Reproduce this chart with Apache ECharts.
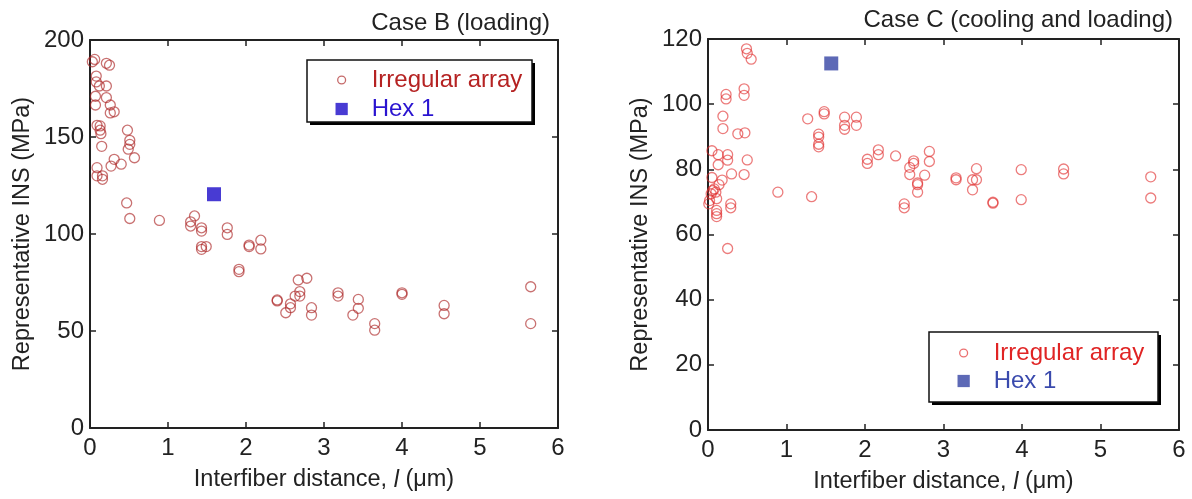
<!DOCTYPE html>
<html>
<head>
<meta charset="utf-8">
<script src="https://cdn.jsdelivr.net/npm/echarts@6/dist/echarts.min.js"></script>
<style>
    html, body { margin: 0; padding: 0; background: #fff; }
    #chart { width: 1192px; height: 499px; }
</style>
</head>
<body>
<div id="chart"></div>
<script>
// Case B (loading): [interfiber distance, INS]
var caseBIrregular = [
    [0.03, 188.8], [0.06, 190], [0.21, 188], [0.25, 187], [0.08, 181.4], [0.08, 178.4],
    [0.12, 176.3], [0.21, 176.3], [0.07, 171], [0.21, 170.3], [0.07, 166.5], [0.26, 166.5],
    [0.26, 162.4], [0.31, 163], [0.09, 156], [0.13, 155.7], [0.13, 153.5], [0.14, 151.7],
    [0.48, 153.5], [0.51, 148.3], [0.51, 146.2], [0.49, 143.7], [0.15, 145.2], [0.57, 139.3],
    [0.31, 138.5], [0.27, 135], [0.4, 136], [0.09, 134.2], [0.09, 130], [0.16, 130],
    [0.16, 128.2], [0.47, 116], [0.51, 108], [0.89, 107], [1.34, 109.3], [1.29, 106.3],
    [1.29, 104.1], [1.43, 103.2], [1.43, 101.5], [1.76, 103.2], [1.76, 99.8], [1.43, 93.5],
    [1.43, 92.1], [1.49, 93.5], [2.04, 94.3], [2.04, 93.5], [2.19, 96.8], [2.19, 92.3],
    [1.91, 81.8], [1.91, 80.6], [2.67, 76.3], [2.78, 77.2], [2.69, 70.3], [2.69, 68],
    [2.63, 68], [2.4, 66], [2.4, 65.5], [2.57, 64], [2.57, 62], [2.51, 59.4], [2.84, 62],
    [2.84, 58.2], [3.18, 69.7], [3.18, 68], [3.44, 66.3], [3.44, 61.7], [3.37, 58.2],
    [3.65, 53.8], [3.65, 50.4], [4.0, 69.7], [4.0, 68.9], [4.54, 63.2], [4.54, 58.9],
    [5.65, 72.8], [5.65, 53.8]
];
var caseBHex = [[1.59, 120.5]];

// Case C (cooling and loading)
var caseCIrregular = [
    [0.49, 117], [0.5, 115.6], [0.55, 113.8], [0.46, 104.7], [0.46, 102.7], [0.23, 103],
    [0.23, 101.6], [0.19, 96.3], [0.19, 92.5], [0.38, 90.9], [0.47, 91.2], [0.05, 85.7],
    [0.13, 84.5], [0.25, 84.5], [0.25, 82.8], [0.5, 82.9], [0.13, 81.4], [0.3, 78.6],
    [0.46, 78.4], [0.05, 77.5], [0.18, 76.7], [0.14, 75.3], [0.08, 74], [0.06, 73.5],
    [0.04, 72.5], [0.02, 70.4], [0.01, 69.4], [0.1, 73], [0.11, 71], [0.11, 67.4],
    [0.11, 66.4], [0.11, 65.5], [0.29, 69.4], [0.29, 68.2], [0.25, 55.7], [0.89, 73],
    [1.32, 71.6], [1.27, 95.5], [1.48, 97.7], [1.48, 97], [1.41, 90.8], [1.41, 89.9],
    [1.41, 87.7], [1.41, 86.9], [1.74, 96], [1.74, 93.5], [1.74, 92.3], [1.89, 96],
    [1.89, 93.5], [2.17, 86], [2.17, 84.5], [2.03, 83.1], [2.03, 81.8], [2.39, 84.1],
    [2.62, 82.6], [2.62, 81.8], [2.57, 80.6], [2.57, 78.4], [2.82, 85.5], [2.82, 82.4],
    [2.76, 78.2], [2.67, 75.8], [2.67, 75.3], [2.67, 73], [2.5, 69.4], [2.5, 68.2],
    [3.16, 77.4], [3.16, 76.8], [3.42, 80.2], [3.37, 76.8], [3.42, 76.8], [3.37, 73.7],
    [3.63, 69.9], [3.63, 69.6], [3.99, 79.9], [3.99, 70.7], [4.53, 80.1], [4.53, 78.6],
    [5.64, 77.7], [5.64, 71.2]
];
var caseCHex = [[1.57, 112.5]];

var titles = ['Case B (loading)', 'Case C (cooling and loading)'];
var legendNames = ['Irregular array', 'Hex 1'];

var FONT = '"Liberation Sans", Arial, sans-serif';
var INK = '#222';
// small icons with empty margins so the legend keeps them little
var smallCircle = 'path://M0,0M16,16M8,3.5A4.5,4.5,0,1,1,7.99,3.5Z';
var smallSquare = 'path://M0,0M16,16M1,1H15V15H1Z';

function xAxes(grid) {
    var base = {
        gridIndex: grid, type: 'value', min: 0, max: 6, interval: 1,
        axisLine: { show: true, onZero: false, lineStyle: { color: INK, width: 2 } },
        axisTick: { show: true, inside: true, length: 6, lineStyle: { color: INK, width: 1.5 } },
        splitLine: { show: false }
    };
    var bottom = Object.assign({}, base, {
        position: 'bottom',
        axisLabel: { color: INK, fontSize: 24, fontFamily: FONT, margin: 8 },
        name: 'Interfiber distance, {i|l} (μm)',
        nameLocation: 'middle',
        nameGap: 40,
        nameTextStyle: {
            color: INK, fontSize: 23.5, fontFamily: FONT, verticalAlign: 'top',
            rich: { i: { fontStyle: 'italic', fontSize: 23.5, fontFamily: FONT, color: INK } }
        }
    });
    var top = Object.assign({}, base, { position: 'top', axisLabel: { show: false } });
    return [bottom, top];
}

function yAxes(grid, max, step) {
    var base = {
        gridIndex: grid, type: 'value', min: 0, max: max, interval: step,
        axisLine: { show: true, onZero: false, lineStyle: { color: INK, width: 2 } },
        axisTick: { show: true, inside: true, length: 6, lineStyle: { color: INK, width: 1.5 } },
        splitLine: { show: false }
    };
    var left = Object.assign({}, base, {
        position: 'left',
        axisLabel: { color: INK, fontSize: 24, fontFamily: FONT, margin: 6 },
        name: 'Representative INS (MPa)',
        nameLocation: 'middle',
        nameGap: 55,
        nameTextStyle: { color: INK, fontSize: 23.5, fontFamily: FONT }
    });
    var right = Object.assign({}, base, { position: 'right', axisLabel: { show: false } });
    return [left, right];
}

function legendFor(left, top, gap, circleColor, hexColor, textRed, textBlue) {
    return {
        orient: 'vertical',
        left: left, top: top, z: 100,
        itemWidth: 50, itemHeight: 14, itemGap: gap,
        padding: 0,
        selectedMode: false,
        textStyle: { fontSize: 24, fontFamily: FONT },
        data: [
            { name: legendNames[0], icon: smallCircle,
              itemStyle: { color: '#fff', borderColor: circleColor, borderWidth: 1.3 },
              textStyle: { color: textRed } },
            { name: legendNames[1], icon: smallSquare,
              itemStyle: { color: hexColor, borderWidth: 0 },
              textStyle: { color: textBlue } }
        ]
    };
}

// legend frame with the solid drop shadow on the lower right
function legendFrame(x, y, w, h) {
    return [
        { type: 'rect', z: 90, shape: { x: x + 3, y: y + 3, width: w, height: h },
          style: { fill: '#000' }, silent: true },
        { type: 'rect', z: 91, shape: { x: x, y: y, width: w, height: h },
          style: { fill: '#fff', stroke: '#111', lineWidth: 1.5 }, silent: true }
    ];
}

function circles(data, xi, yi, color) {
    return {
        name: legendNames[0], type: 'scatter', xAxisIndex: xi, yAxisIndex: yi,
        symbol: 'circle', symbolSize: 10, data: data,
        itemStyle: { color: 'rgba(255,255,255,0)', borderColor: color, borderWidth: 1.3 },
        emphasis: { disabled: true }, silent: true
    };
}

function squares(data, xi, yi, color) {
    return {
        name: legendNames[1], type: 'scatter', xAxisIndex: xi, yAxisIndex: yi,
        symbol: 'rect', symbolSize: 14, data: data, z: 3,
        itemStyle: { color: color },
        emphasis: { disabled: true }, silent: true
    };
}

var chart = echarts.init(document.getElementById('chart'), null, { renderer: 'canvas' });
chart.setOption({
    animation: false,
    backgroundColor: '#fff',
    title: [
        { text: titles[0], right: 637, top: 6,
          textStyle: { color: INK, fontSize: 24, fontWeight: 'normal', fontFamily: FONT } },
        { text: titles[1], right: 14, top: 3,
          textStyle: { color: INK, fontSize: 24, fontWeight: 'normal', fontFamily: FONT } }
    ],
    grid: [
        { left: 90, top: 40, width: 468, height: 388 },
        { left: 708, top: 39, width: 471, height: 392 }
    ],
    xAxis: xAxes(0).concat(xAxes(1)),
    yAxis: yAxes(0, 200, 50).concat(yAxes(1, 120, 20)),
    graphic: legendFrame(307, 60, 225, 62).concat(legendFrame(929, 332, 229, 70)),
    legend: [
        legendFor(334, 68, 5, 'rgba(170,35,35,0.85)', '#1a0ac8', '#b52222', '#2a14d0'),
        legendFor(956, 341, 4, 'rgba(225,45,45,0.85)', '#3444a4', '#e02424', '#3a4aad')
    ],
    series: [
        circles(caseBIrregular, 0, 0, 'rgba(170,35,35,0.8)'),
        squares(caseBHex, 0, 0, '#1a0ac8'),
        circles(caseCIrregular, 2, 2, 'rgba(225,45,45,0.78)'),
        squares(caseCHex, 2, 2, '#3444a4')
    ]
});
</script>
</body>
</html>
